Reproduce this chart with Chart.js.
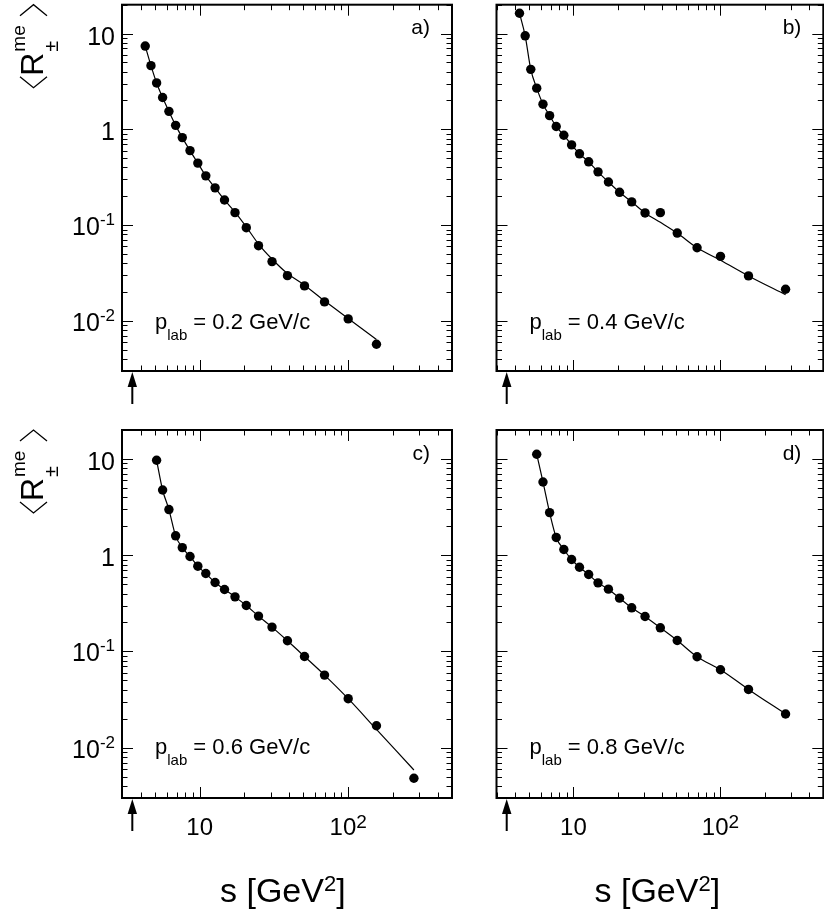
<!DOCTYPE html>
<html>
<head>
<meta charset="utf-8">
<title>R me vs s</title>
<script src="https://cdn.jsdelivr.net/npm/chart.js@4.4.1/dist/chart.umd.min.js"></script>
<style>
  html, body { margin: 0; padding: 0; background: #fff; overflow: hidden; }
  #page { position: relative; width: 824px; height: 914px; overflow: hidden; background: #fff; }
  #page canvas { position: absolute; }
</style>
</head>
<body>
<div id="page">
  <canvas id="panelA" width="474" height="420" style="left:0;top:0"></canvas>
  <canvas id="panelB" width="354" height="420" style="left:474px;top:0"></canvas>
  <canvas id="panelC" width="474" height="494" style="left:0;top:420px"></canvas>
  <canvas id="panelD" width="354" height="494" style="left:474px;top:420px"></canvas>
</div>
<script>
// s values [GeV^2] used by all panels
var sGrid = [4.30, 4.70, 5.13, 5.63, 6.21, 6.89, 7.64, 8.61, 9.72, 11.0, 12.7,
             14.7, 17.3, 20.6, 24.9, 30.7, 39.0, 50.8, 69.3, 100, 155, 277];

// measured <R+-me> (dots) and the curve through them, per p_lab
var rA   = [7.4, 4.62, 3.05, 2.15, 1.54, 1.10, 0.82, 0.60, 0.444, 0.327, 0.245,
            0.183, 0.135, 0.094, 0.061, 0.0416, 0.0297, 0.0232, 0.0158, 0.0105, 0.0057];
var fitA = [7.4, 4.62, 3.05, 2.15, 1.54, 1.10, 0.82, 0.60, 0.444, 0.327, 0.245,
            0.183, 0.137, 0.096, 0.0635, 0.0443, 0.0312, 0.0236, 0.0162, 0.0106, 0.0064];

var rB   = [16.3, 9.47, 4.23, 2.69, 1.83, 1.39, 1.07, 0.867, 0.688, 0.555, 0.458,
            0.36, 0.282, 0.22, 0.175, 0.134, 0.135, 0.0826, 0.058, 0.0472, 0.0295, 0.0214];
var fitB = [16.3, 9.47, 4.23, 2.69, 1.83, 1.39, 1.07, 0.867, 0.688, 0.555, 0.458,
            0.36, 0.282, 0.22, 0.175, 0.134, 0.107, 0.0826, 0.058, 0.043, 0.0295, 0.0188];

var rC   = [9.69, 4.76, 2.98, 1.59, 1.20, 0.969, 0.769, 0.645, 0.52, 0.44,
            0.369, 0.30, 0.233, 0.179, 0.129, 0.0887, 0.0568, 0.0323, 0.0169, 0.00481];
var fitC = [9.69, 4.76, 2.98, 1.59, 1.20, 0.969, 0.769, 0.645, 0.52, 0.44,
            0.369, 0.30, 0.233, 0.179, 0.129, 0.0887, 0.0568, 0.0323, 0.0155, 0.00586];

var rD   = [11.2, 5.77, 2.77, 1.53, 1.146, 0.902, 0.75, 0.63, 0.516, 0.444,
            0.358, 0.284, 0.231, 0.176, 0.13, 0.088, 0.0645, 0.0403, 0.0224];
var fitD = rD;

var pLab = ['0.2', '0.4', '0.6', '0.8'];
var panelTags = ['a)', 'b)', 'c)', 'd)'];

// axis ranges and labels
var sMin = 3, sMax = 500;
var rMin = 0.003, rMax = 20;
var thresholdS = 3.52;   // 4 m_p^2, marked with the arrow
var yTickLabels = [[10, '10', ''], [1, '1', ''], [0.1, '10', '-1'], [0.01, '10', '-2']];
var xTickLabels = [[10, '10', ''], [100, '10', '2']];

var FONT = '"Liberation Sans", Arial, Helvetica, sans-serif';

function pts(xs, ys) {
  return ys.map(function (y, i) { return {x: xs[i], y: y}; });
}

function logTicks(min, max) {
  var out = [];
  for (var e = Math.floor(Math.log10(min)); e <= Math.ceil(Math.log10(max)); e++) {
    for (var m = 1; m <= 9; m++) {
      var v = m * Math.pow(10, e);
      if (v >= min * 0.999 && v <= max * 1.001) out.push({v: v, major: m === 1});
    }
  }
  return out;
}

function rich(ctx, x, y, base, exp, size, supSize, supRise, align) {
  ctx.font = size + 'px ' + FONT;
  var wb = ctx.measureText(base).width;
  ctx.font = supSize + 'px ' + FONT;
  var we = exp ? ctx.measureText(exp).width : 0;
  var x0 = align === 'right' ? x - wb - we : (align === 'center' ? x - (wb + we) / 2 : x);
  ctx.textAlign = 'left';
  ctx.font = size + 'px ' + FONT;
  ctx.fillText(base, x0, y);
  if (exp) {
    ctx.font = supSize + 'px ' + FONT;
    ctx.fillText(exp, x0 + wb, y - supRise);
  }
}

var rootStyle = {
  id: 'rootStyle',
  afterDraw: function (chart, args, o) {
    var ctx = chart.ctx, a = chart.chartArea;
    var xs = chart.scales.x, ys = chart.scales.y;
    ctx.save();
    ctx.fillStyle = '#000';
    ctx.strokeStyle = '#000';
    ctx.textBaseline = 'alphabetic';

    // ticks on all four sides, pointing inwards
    ctx.lineWidth = 1;
    ctx.beginPath();
    logTicks(sMin, sMax).forEach(function (t) {
      var px = Math.round(xs.getPixelForValue(t.v)) + 0.5;
      var len = t.major ? 11 : 5.5;
      ctx.moveTo(px, a.bottom); ctx.lineTo(px, a.bottom - len);
      ctx.moveTo(px, a.top); ctx.lineTo(px, a.top + len);
    });
    logTicks(rMin, rMax).forEach(function (t) {
      var py = Math.round(ys.getPixelForValue(t.v)) + 0.5;
      var len = t.major ? 11 : 5.5;
      ctx.moveTo(a.left, py); ctx.lineTo(a.left + len, py);
      ctx.moveTo(a.right, py); ctx.lineTo(a.right - len, py);
    });
    ctx.stroke();

    // frame
    ctx.lineWidth = 2;
    ctx.strokeRect(a.left, a.top, a.right - a.left, a.bottom - a.top);

    // threshold arrow
    var ax = xs.getPixelForValue(thresholdS);
    ctx.beginPath();
    ctx.moveTo(ax, a.bottom + 1);
    ctx.lineTo(ax - 4.7, a.bottom + 16);
    ctx.lineTo(ax + 4.7, a.bottom + 16);
    ctx.closePath();
    ctx.fill();
    ctx.fillRect(ax - 1, a.bottom + 14, 2, 19);

    // panel tag and momentum
    ctx.font = '21px ' + FONT;
    ctx.textAlign = 'right';
    ctx.fillText(o.tag, a.right - 22, a.top + 29.5);

    var px0 = a.left + 33, py0 = a.top + 324.3;
    ctx.textAlign = 'left';
    ctx.font = '22px ' + FONT;
    ctx.fillText('p', px0, py0);
    var wp = ctx.measureText('p').width;
    ctx.font = '15px ' + FONT;
    ctx.fillText('lab', px0 + wp, py0 + 10.5);
    var wl = ctx.measureText('lab').width;
    ctx.font = '22px ' + FONT;
    ctx.fillText(' = ' + o.p + ' GeV/c', px0 + wp + wl, py0);

    if (o.leftLabels) {
      yTickLabels.forEach(function (l) {
        var py = ys.getPixelForValue(l[0]);
        rich(ctx, a.left - 7, py + (l[2] ? 10 : 11), l[1], l[2], 25, 17, 10, 'right');
      });
      // y title  <R^me_+->, read bottom to top
      ctx.save();
      ctx.translate(43, a.top + 83);
      ctx.rotate(-Math.PI / 2);
      ctx.textAlign = 'left';
      ctx.lineWidth = 1.3;
      ctx.beginPath();
      ctx.moveTo(11, 4); ctx.lineTo(0, -9.5); ctx.lineTo(11, -23);
      ctx.moveTo(72, 4); ctx.lineTo(83, -9.5); ctx.lineTo(72, -23);
      ctx.stroke();
      ctx.font = '32px ' + FONT;
      ctx.fillText('R', 12, 0);
      ctx.font = '19px ' + FONT;
      ctx.fillText('me', 36, -18);
      ctx.font = '20px ' + FONT;
      ctx.fillText('\u00B1', 36, 15);
      ctx.restore();
    }

    if (o.bottomLabels) {
      xTickLabels.forEach(function (l) {
        var px = xs.getPixelForValue(l[0]);
        rich(ctx, px, a.bottom + 37, l[1], l[2], 24, 19, 7, 'center');
      });
      // x title  s [GeV^2]
      var tx = a.left + 98, ty = a.bottom + 104;
      ctx.textAlign = 'left';
      ctx.font = '34px ' + FONT;
      ctx.fillText('s [GeV', tx, ty);
      var w1 = ctx.measureText('s [GeV').width;
      ctx.font = '22px ' + FONT;
      ctx.fillText('2', tx + w1, ty - 11);
      var w2 = ctx.measureText('2').width;
      ctx.font = '34px ' + FONT;
      ctx.fillText(']', tx + w1 + w2, ty);
    }
    ctx.restore();
  }
};

function makePanel(id, s, r, fit, idx, pad, leftLabels, bottomLabels) {
  new Chart(document.getElementById(id), {
    type: 'scatter',
    data: {
      datasets: [
        {
          data: pts(s, r),
          backgroundColor: '#000',
          borderColor: '#000',
          pointRadius: 4.7,
          pointHoverRadius: 4.7,
          pointBorderWidth: 0,
          order: 0
        },
        {
          data: pts(s, fit),
          showLine: true,
          borderColor: '#000',
          borderWidth: 1.2,
          pointRadius: 0,
          cubicInterpolationMode: 'monotone',
          order: 1
        }
      ]
    },
    options: {
      responsive: false,
      animation: false,
      events: [],
      layout: {padding: pad},
      plugins: {
        legend: {display: false},
        tooltip: {enabled: false},
        rootStyle: {tag: panelTags[idx], p: pLab[idx], leftLabels: leftLabels, bottomLabels: bottomLabels}
      },
      scales: {
        x: {type: 'logarithmic', min: sMin, max: sMax, display: false},
        y: {type: 'logarithmic', min: rMin, max: rMax, display: false}
      }
    },
    plugins: [rootStyle]
  });
}

makePanel('panelA', sGrid.slice(0, 21), rA, fitA, 0, {left: 122, top: 4, right: 22, bottom: 49}, true, false);
makePanel('panelB', sGrid.slice(0, 22), rB, fitB, 1, {left: 22.5, top: 4, right: 2, bottom: 49}, false, false);
makePanel('panelC', sGrid.slice(2), rC, fitC, 2, {left: 122, top: 10, right: 22, bottom: 116}, true, true);
makePanel('panelD', sGrid.slice(3), rD, fitD, 3, {left: 22.5, top: 10, right: 2, bottom: 116}, false, true);
</script>
</body>
</html>
